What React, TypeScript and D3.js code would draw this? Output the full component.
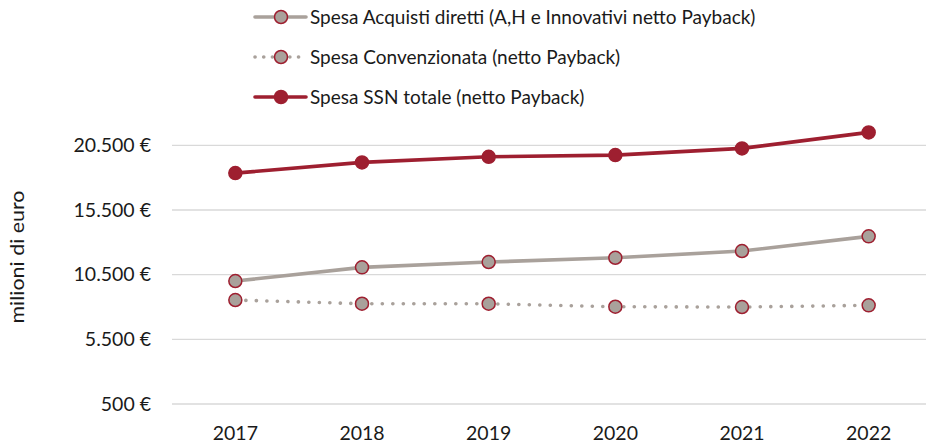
import * as d3 from 'd3';

const years = ['2017', '2018', '2019', '2020', '2021', '2022'];
const acquisti = [10005, 11064, 11474, 11806, 12324, 13460];
const convenzionata = [8537, 8251, 8251, 8019, 7996, 8128];
const ssnTotale = [18352, 19179, 19612, 19743, 20260, 21497];
const yTicks = [500, 5500, 10500, 15500, 20500];

const seriesNames = [
  'Spesa Acquisti diretti (A,H e Innovativi netto Payback)',
  'Spesa Convenzionata (netto Payback)',
  'Spesa SSN totale (netto Payback)',
];

const W = 926;
const H = 447;
const RED = '#9E1F30';
const GREY = '#A9A19B';
const FONT = 'Lato, "Open Sans", sans-serif';

export default function App() {
  const x = d3.scaleBand<string>().domain(years).range([172, 932]);
  const y = d3.scaleLinear().domain([500, 20500]).range([404, 145.3]);
  const cx = (yr: string) => (x(yr) ?? 0) + x.bandwidth() / 2;

  const line = d3
    .line<number>()
    .x((_, i) => cx(years[i]))
    .y((d) => y(d));

  const fmt = (v: number) => d3.format(',')(v).replace(/,/g, '.') + ' €';

  const series = [
    { name: seriesNames[0], data: acquisti, stroke: GREY, dash: undefined, fill: GREY, ring: RED },
    { name: seriesNames[1], data: convenzionata, stroke: GREY, dash: '0.1 10.4', fill: GREY, ring: RED },
    { name: seriesNames[2], data: ssnTotale, stroke: RED, dash: undefined, fill: RED, ring: RED },
  ];
  const legendY = [17, 57, 97];

  return (
    <svg
      width={W}
      height={H}
      style={{ position: 'absolute', left: 0, top: 0, background: '#fff' }}
      fontFamily={FONT}
    >
      {yTicks.map((t) => (
        <g key={t}>
          <line x1={172} x2={W} y1={y(t)} y2={y(t)} stroke="#D9D9D9" strokeWidth={1.3} />
          <text x={151} y={y(t)} dy="0.35em" textAnchor="end" fontSize={19.5} fill="#1a1a1a">
            {fmt(t)}
          </text>
        </g>
      ))}
      <text
        transform="translate(24,257) rotate(-90)"
        textAnchor="middle"
        fontSize={19}
        textLength={133}
        lengthAdjust="spacingAndGlyphs"
        fill="#1a1a1a"
      >
        milioni di euro
      </text>
      {years.map((yr) => (
        <text key={yr} x={cx(yr)} y={440} textAnchor="middle" fontSize={19.5} fill="#1a1a1a">
          {yr}
        </text>
      ))}
      {series.map((s) => (
        <g key={s.name}>
          <path
            d={line(s.data) ?? ''}
            fill="none"
            stroke={s.stroke}
            strokeWidth={3.6}
            strokeDasharray={s.dash}
            strokeLinecap="round"
          />
          {s.data.map((v, i) => (
            <circle
              key={i}
              cx={cx(years[i])}
              cy={y(v)}
              r={6.5}
              fill={s.fill}
              stroke={s.ring}
              strokeWidth={1.5}
            />
          ))}
        </g>
      ))}
      {series.map((s, i) => (
        <g key={'lg' + i} transform={`translate(0,${legendY[i]})`}>
          <line
            x1={255}
            x2={306}
            y1={0}
            y2={0}
            stroke={s.stroke}
            strokeWidth={3.6}
            strokeDasharray={s.dash ? '0.1 8.6' : undefined}
            strokeLinecap="round"
          />
          <circle cx={281} cy={0} r={6.5} fill={s.fill} stroke={s.ring} strokeWidth={1.5} />
          <text x={310} y={0} dy="0.35em" fontSize={19} fill="#1a1a1a">
            {s.name}
          </text>
        </g>
      ))}
    </svg>
  );
}
